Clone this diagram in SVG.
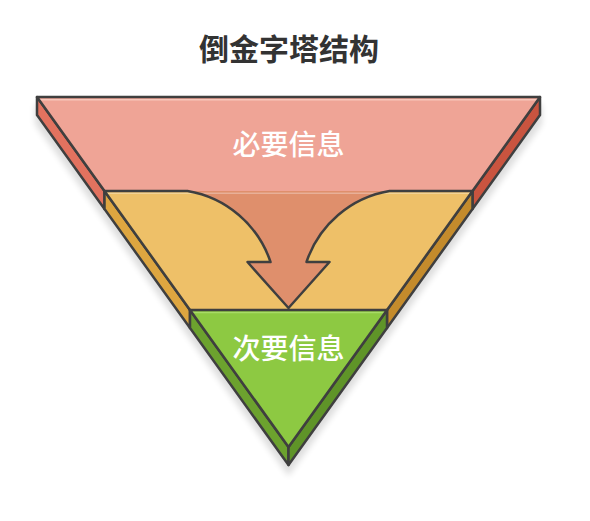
<svg xmlns="http://www.w3.org/2000/svg" width="590" height="521" viewBox="0 0 590 521">
  <defs>
    <filter id="blur" x="-10%" y="-10%" width="120%" height="120%">
      <feGaussianBlur stdDeviation="3"/>
    </filter>
    <style>
      .ol { stroke: #3f3f3f; stroke-width: 2.5; stroke-linejoin: round; stroke-linecap: round; }
      .nf { fill: none; }
      .title { font-family: "Noto Sans CJK SC", "Noto Sans", sans-serif; font-size: 30px; font-weight: bold; fill: #333333; text-anchor: middle; }
      .lbl { font-family: "Noto Sans CJK SC", "Noto Sans", sans-serif; font-size: 28px; font-weight: 500; fill: #ffffff; text-anchor: middle; }
    </style>
  </defs>
  <rect width="590" height="521" fill="#ffffff"/>

  <g id="title">
    <text class="title" x="289" y="59.5">倒金字塔结构</text>
  </g>

  <!-- shadow -->
  <polygon points="35,100 542,100 542,120 288.5,472 35,120" fill="#000" opacity="0.13" filter="url(#blur)" transform="translate(0,4)"/>

  <g id="layer-top">
    <polygon class="ol" points="37,97 104.5,191 104.5,209 37,115" fill="#E2725F"/>
    <polygon class="ol" points="540,97 540,115 472.5,209 472.5,191" fill="#C9543F"/>
    <polygon points="37,97 540,97 472.5,191 104.5,191" fill="#EFA496"/>
    <line x1="40" y1="99.8" x2="538" y2="99.8" stroke="#F8C6BA" stroke-width="1.6"/>
    <path class="ol nf" d="M104.5,191 L37,97 H540 L472.5,191"/>
    <text class="lbl" x="288.5" y="154.5">必要信息</text>
  </g>

  <g id="layer-middle">
    <polygon class="ol" points="104.5,191 190,310 190,328 104.5,209" fill="#DEA640"/>
    <polygon class="ol" points="472.5,191 472.5,209 387,328 387,310" fill="#C48B2C"/>
    <polygon points="104.5,191 472.5,191 387,310 190,310" fill="#EEC068"/>
  </g>

  <g id="arrow">
    <path d="M187.5,191 A106 106 0 0 1 270.5,262 H247.5 L288.5,308 L329.5,262 H306.5 A106 106 0 0 1 389.5,191 Z" fill="#DF8F6C"/>
    <line x1="106" y1="193.3" x2="471" y2="193.3" stroke="#ffffff" stroke-opacity="0.3" stroke-width="1.6"/>
    <path class="ol nf" d="M190,310 L104.5,191 H187.5 A106 106 0 0 1 270.5,262 H247.5 L288.5,308 L329.5,262 H306.5 A106 106 0 0 1 389.5,191 H472.5 L387,310"/>
  </g>

  <g id="layer-bottom">
    <polygon class="ol" points="190,310 288.5,447 288.5,465 190,328" fill="#6CA22E"/>
    <polygon class="ol" points="387,310 387,328 288.5,465 288.5,447" fill="#5F9428"/>
    <polygon points="190,310 387,310 288.5,447" fill="#8DC942"/>
    <line x1="193" y1="312.5" x2="384" y2="312.5" stroke="#A8DC66" stroke-width="1.6"/>
    <polygon class="ol nf" points="190,310 387,310 288.5,447"/>
    <text class="lbl" x="288.5" y="358.5">次要信息</text>
  </g>
</svg>
